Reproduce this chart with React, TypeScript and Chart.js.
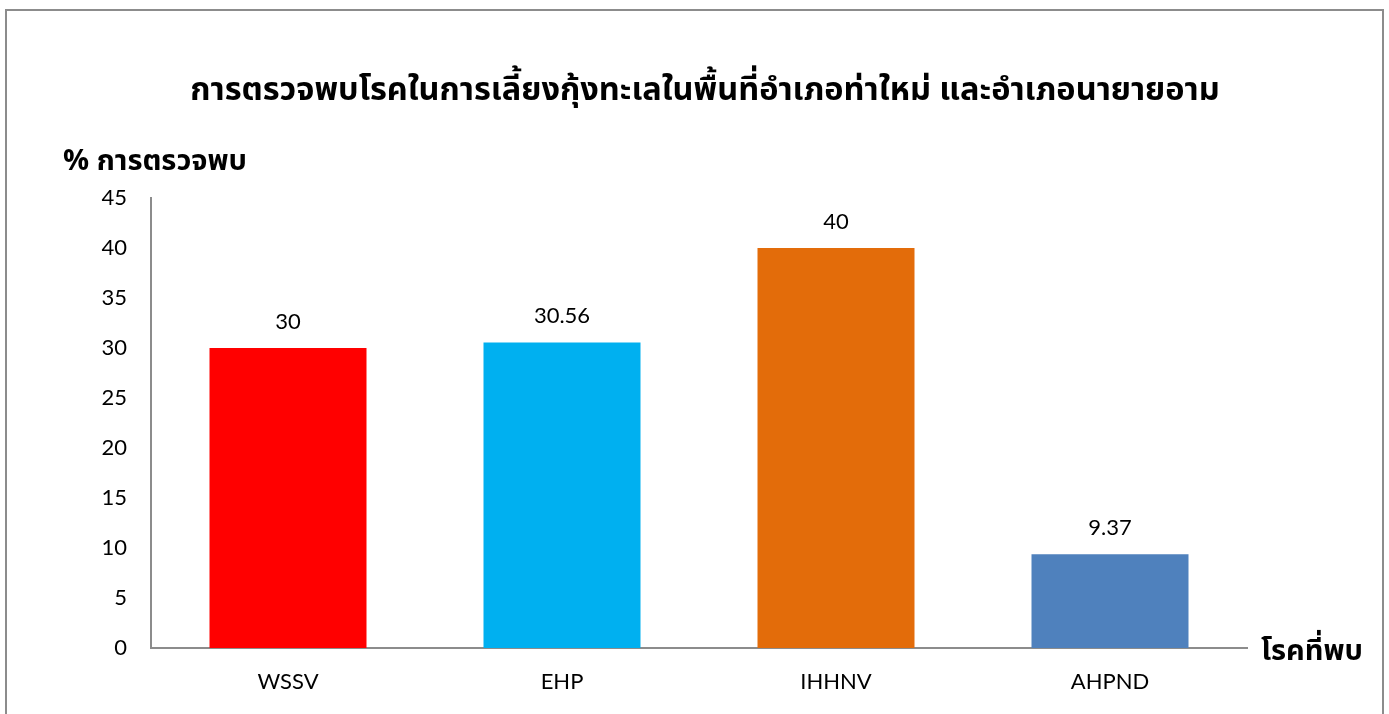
import React, { useEffect, useRef } from "react";
import { Chart, registerables } from "chart.js";

Chart.register(...registerables);

const categories = ["WSSV", "EHP", "IHHNV", "AHPND"];
const detectionPercent = [30, 30.56, 40, 9.37];
const barColors = ["#FF0000", "#00B0F0", "#E36C0A", "#4F81BD"];
const valueLabels = ["30", "30.56", "40", "9.37"];
const chartTitle = "การตรวจพบโรคในการเลี้ยงกุ้งทะเลในพื้นที่อำเภอท่าใหม่ และอำเภอนายายอาม";
const yAxisTitle = "% การตรวจพบ";
const xAxisTitle = "โรคที่พบ";
const yMin = 0;
const yMax = 45;
const yStep = 5;

const THAI_FONT = "Tahoma, 'Noto Sans Thai', 'Noto Sans', 'Open Sans', sans-serif";
const LABEL_FONT = "Lato, 'Open Sans', 'Noto Sans', sans-serif";

const textPlugin = {
  id: "customText",
  afterDraw(chart: any) {
    const ctx = chart.ctx;
    const area = chart.chartArea;
    ctx.save();
    ctx.fillStyle = "#000000";
    ctx.textAlign = "center";
    ctx.textBaseline = "middle";
    ctx.font = `bold 32.5px ${THAI_FONT}`;
    ctx.fillText(chartTitle, 705, 93);
    ctx.textAlign = "left";
    ctx.font = `bold 29px ${THAI_FONT}`;
    ctx.fillText(yAxisTitle, 63, 164);
    ctx.fillText(xAxisTitle, area.right + 14, area.bottom + 6);
    const meta = chart.getDatasetMeta(0);
    ctx.textAlign = "center";
    ctx.font = `22px ${LABEL_FONT}`;
    meta.data.forEach((bar: any, i: number) => {
      ctx.fillText(valueLabels[i], bar.x, bar.y - 26);
    });
    ctx.restore();
  },
};

export default function App() {
  const canvasRef = useRef<HTMLCanvasElement | null>(null);

  useEffect(() => {
    if (!canvasRef.current) return;
    const chart = new Chart(canvasRef.current, {
      type: "bar",
      data: {
        labels: categories,
        datasets: [
          {
            data: detectionPercent,
            backgroundColor: barColors,
            borderWidth: 0,
            categoryPercentage: 1,
            barPercentage: 0.573,
          },
        ],
      },
      options: {
        animation: false,
        responsive: false,
        layout: { padding: { top: 198, right: 142, bottom: 0, left: 0 } },
        plugins: {
          legend: { display: false },
          title: { display: false },
          tooltip: { enabled: false },
        },
        scales: {
          x: {
            grid: { display: false, drawTicks: false },
            border: { display: true, color: "#8C8C8C", width: 2 },
            ticks: {
              color: "#000000",
              font: { family: LABEL_FONT, size: 22 },
              padding: 21,
            },
            afterFit(scale: any) {
              scale.height = 66;
            },
          },
          y: {
            min: yMin,
            max: yMax,
            grid: { display: false, drawTicks: false },
            border: { display: true, color: "#8C8C8C", width: 2 },
            ticks: {
              stepSize: yStep,
              color: "#000000",
              font: { family: LABEL_FONT, size: 22 },
              padding: 24,
            },
            afterFit(scale: any) {
              scale.width = 151;
            },
          },
        },
      },
      plugins: [textPlugin],
    });
    return () => chart.destroy();
  }, []);

  return (
    <div style={{ position: "absolute", left: 0, top: 0, width: 1389, height: 714, background: "#FFFFFF", overflow: "hidden" }}>
      <div
        style={{
          position: "absolute",
          left: 5,
          top: 9,
          width: 1379,
          height: 720,
          border: "2px solid #8C8C8C",
          boxSizing: "border-box",
        }}
      />
      <canvas ref={canvasRef} width={1389} height={714} style={{ position: "absolute", left: 0, top: 0 }} />
    </div>
  );
}
